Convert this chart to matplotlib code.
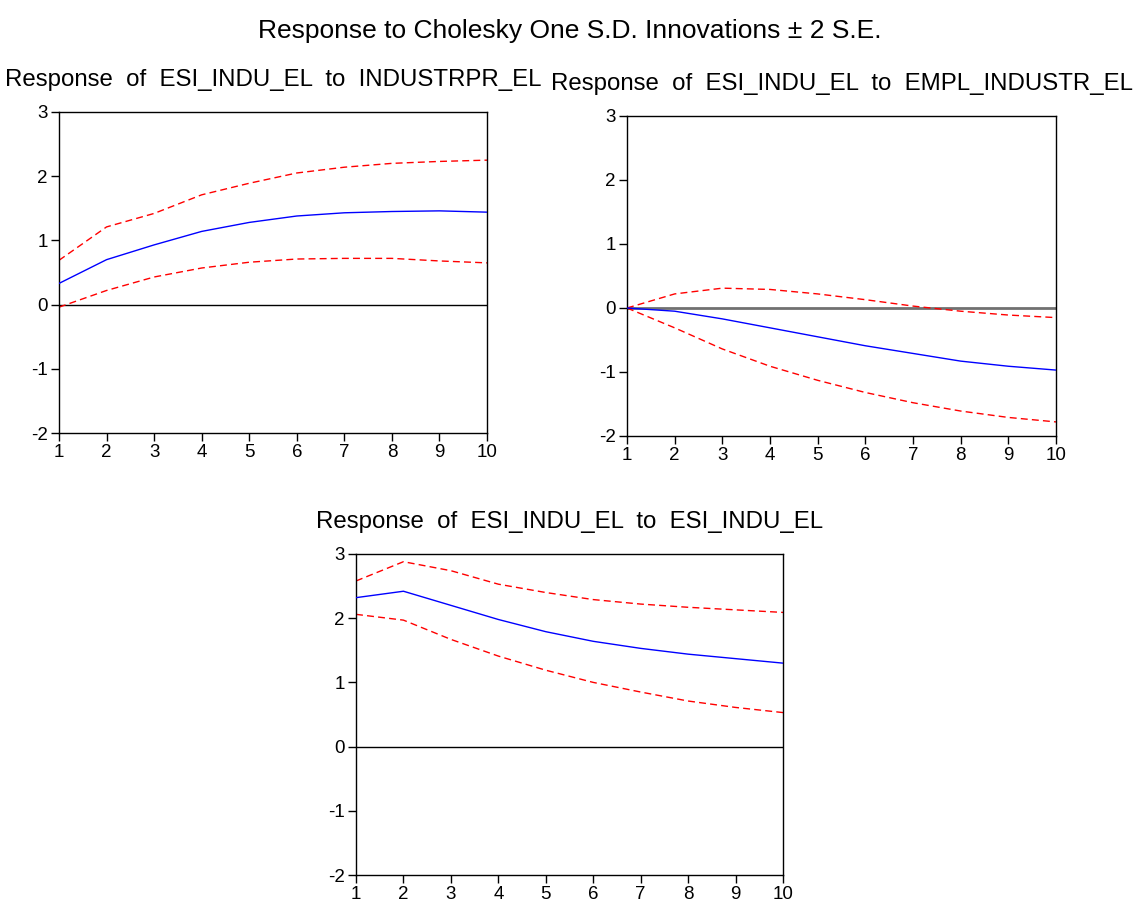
import matplotlib
matplotlib.use('Agg')
import matplotlib.pyplot as plt
import numpy as np

plt.rcParams['font.family'] = ['Liberation Sans', 'DejaVu Sans']
plt.rcParams['axes.unicode_minus'] = False

# 冲击期数
periods = np.arange(1, 11)

# ESI_INDU_EL 对 INDUSTRPR_EL 的响应
resp_indpr = [0.33, 0.70, 0.93, 1.14, 1.28, 1.38, 1.43, 1.45, 1.46, 1.44]
upper_indpr = [0.69, 1.21, 1.42, 1.71, 1.89, 2.05, 2.14, 2.20, 2.23, 2.25]
lower_indpr = [-0.04, 0.22, 0.43, 0.57, 0.66, 0.71, 0.72, 0.72, 0.68, 0.65]

# ESI_INDU_EL 对 EMPL_INDUSTR_EL 的响应
resp_empl = [0.0, -0.05, -0.17, -0.31, -0.45, -0.59, -0.71, -0.83, -0.91, -0.97]
upper_empl = [0.0, 0.22, 0.31, 0.29, 0.22, 0.13, 0.03, -0.05, -0.11, -0.15]
lower_empl = [0.0, -0.31, -0.64, -0.91, -1.13, -1.32, -1.48, -1.61, -1.71, -1.78]

# ESI_INDU_EL 对自身的响应
resp_esi = [2.32, 2.42, 2.20, 1.98, 1.79, 1.64, 1.53, 1.44, 1.37, 1.30]
upper_esi = [2.58, 2.88, 2.74, 2.53, 2.40, 2.29, 2.22, 2.17, 2.13, 2.09]
lower_esi = [2.06, 1.97, 1.67, 1.41, 1.19, 1.00, 0.85, 0.71, 0.61, 0.53]

titles = ['Response  of  ESI_INDU_EL  to  INDUSTRPR_EL',
          'Response  of  ESI_INDU_EL  to  EMPL_INDUSTR_EL',
          'Response  of  ESI_INDU_EL  to  ESI_INDU_EL']

W, H = 1139, 905
fig = plt.figure(figsize=(W / 100, H / 100), dpi=100)


def px_axes(x0, y0, x1, y1):
    return fig.add_axes([x0 / W, 1 - y1 / H, (x1 - x0) / W, (y1 - y0) / H])


panels = [
    (px_axes(59, 112, 487, 433), resp_indpr, upper_indpr, lower_indpr, ('black', 1.0)),
    (px_axes(627, 116, 1056, 436), resp_empl, upper_empl, lower_empl, ('#707070', 2.0)),
    (px_axes(356, 554, 783, 875), resp_esi, upper_esi, lower_esi, ('black', 1.0)),
]

for (ax, resp, up, lo, zero_style), title in zip(panels, titles):
    ax.axhline(0, color=zero_style[0], lw=zero_style[1], zorder=1)
    ax.plot(periods, up, color='red', lw=1.0, dashes=(5, 3), zorder=2)
    ax.plot(periods, lo, color='red', lw=1.0, dashes=(5, 3), zorder=2)
    ax.plot(periods, resp, color='blue', lw=1.0, zorder=3)
    ax.set_xlim(1, 10)
    ax.set_ylim(-2, 3)
    ax.set_xticks(periods)
    ax.set_yticks([-2, -1, 0, 1, 2, 3])
    ax.tick_params(direction='out', length=6, width=1, labelsize=13.5, pad=2,
                   top=False, right=False)
    for sp in ax.spines.values():
        sp.set_linewidth(1.0)
        sp.set_color('black')
    ax.set_title(title, fontsize=17.3, pad=19)

fig.text(0.5, 1 - 31 / H, 'Response to Cholesky One S.D. Innovations ± 2 S.E.',
         fontsize=19, ha='center', va='center')

plt.savefig('out.png', dpi=100)
